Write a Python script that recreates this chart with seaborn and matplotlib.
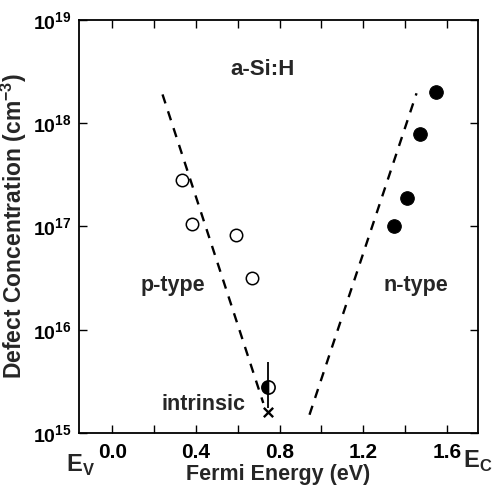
import matplotlib
matplotlib.use("Agg")
import matplotlib.pyplot as plt
import matplotlib.ticker as mticker
import numpy as np
import pandas as pd
import seaborn as sns

# dados (energia de Fermi em eV, concentracao em cm^-3)
p_energy = [0.335, 0.383, 0.593, 0.670]
p_defects = [2.8e17, 1.05e17, 8.3e16, 3.2e16]

n_energy = [1.349, 1.410, 1.470, 1.550]
n_defects = [1.0e17, 1.9e17, 7.9e17, 2.0e18]

intr_energy = [0.746]
intr_defects = [2.8e15]
intr_err_low = [1.75e15]
intr_err_high = [4.9e15]
x_energy = [0.746]
x_defects = [1.6e15]

# linhas tracejadas (extremos)
p_line_energy = [0.24, 0.722]
p_line_defects = [1.9e18, 1.95e15]
n_line_energy = [0.943, 1.455]
n_line_defects = [1.5e15, 1.95e18]

x_ticks = [0.0, 0.2, 0.4, 0.6, 0.8, 1.0, 1.2, 1.4, 1.6]
x_ticklabels = ['0.0', '', '0.4', '', '0.8', '', '1.2', '', '1.6']
y_ticks = [1e15, 1e16, 1e17, 1e18, 1e19]

sns.set_theme(style='ticks')
plt.rcParams['font.family'] = ['Liberation Sans', 'DejaVu Sans']
plt.rcParams['font.weight'] = 'bold'
plt.rcParams['mathtext.fontset'] = 'custom'
plt.rcParams['mathtext.bf'] = 'Liberation Sans:bold'
plt.rcParams['mathtext.rm'] = 'Liberation Sans:bold'

fig = plt.figure(figsize=(4.93, 4.87), dpi=100)
ax = fig.add_axes([0.160, 0.111, 0.810, 0.848])

df_p = pd.DataFrame({'E': p_energy, 'N': p_defects})
df_n = pd.DataFrame({'E': n_energy, 'N': n_defects})

sns.lineplot(x=p_line_energy, y=p_line_defects, ax=ax, color='black',
             linestyle=(0, (4, 3.5)), linewidth=1.7)
sns.lineplot(x=n_line_energy, y=n_line_defects, ax=ax, color='black',
             linestyle=(0, (4, 3.5)), linewidth=1.7)

sns.scatterplot(data=df_p, x='E', y='N', ax=ax, marker='o', s=80,
                facecolor='white', edgecolor='black', linewidth=1.1, zorder=5)
sns.scatterplot(data=df_n, x='E', y='N', ax=ax, marker='o', s=95,
                color='black', edgecolor='black', zorder=5)

# ponto intrinseco com barra de erro
yerr = [[intr_defects[0] - intr_err_low[0]], [intr_err_high[0] - intr_defects[0]]]
ax.errorbar(intr_energy, intr_defects, yerr=yerr, fmt='none', ecolor='black',
            elinewidth=1.3, capsize=0, zorder=4)
ax.plot(intr_energy, intr_defects, marker='o', markersize=9.5, fillstyle='left',
        markerfacecolor='black', markerfacecoloralt='white',
        markeredgecolor='black', markeredgewidth=1.2, linestyle='none', zorder=6)
sns.scatterplot(x=x_energy, y=x_defects, ax=ax, marker='x', s=45,
                color='black', linewidth=1.7, zorder=6)

ax.set_yscale('log')
ax.set_xlim(-0.16, 1.75)
ax.set_ylim(1e15, 1e19)

ax.set_xticks(x_ticks)
ax.set_xticklabels(x_ticklabels, fontsize=15, fontweight='bold')
ax.set_yticks(y_ticks)
ax.yaxis.set_major_formatter(mticker.FuncFormatter(
    lambda v, pos: r'$\mathbf{10^{%d}}$' % round(np.log10(v))))
ax.yaxis.set_minor_locator(mticker.NullLocator())

ax.tick_params(axis='both', which='major', direction='in', length=6, width=1,
               top=True, right=True, colors='black')
ax.tick_params(axis='x', labelsize=15, pad=7)
ax.tick_params(axis='y', labelsize=14, pad=5)
for s in ax.spines.values():
    s.set_linewidth(1.3)
    s.set_color('black')

ax.set_xlabel('Fermi Energy (eV)', fontsize=15.5, fontweight='bold', labelpad=2)
ax.set_ylabel('Defect Concentration (cm$^{-3}$)', fontsize=16.5,
              fontweight='bold')
ax.yaxis.set_label_coords(-0.125, 0.5)

ax.text(0.461, 0.88, 'a-Si:H', transform=ax.transAxes, ha='center', va='center',
        fontsize=16, fontweight='bold')
ax.text(0.236, 0.358, 'p-type', transform=ax.transAxes, ha='center', va='center',
        fontsize=15.5, fontweight='bold')
ax.text(0.845, 0.358, 'n-type', transform=ax.transAxes, ha='center', va='center',
        fontsize=15.5, fontweight='bold')
ax.text(0.313, 0.07, 'intrinsic', transform=ax.transAxes, ha='center',
        va='center', fontsize=15.5, fontweight='bold')

fig.text(80 / 493, 1 - 465 / 487, r'E$_\mathregular{V}$', ha='center',
         va='center', fontsize=17, fontweight='bold')
fig.text(478 / 493, 1 - 461 / 487, r'E$_\mathregular{C}$', ha='center',
         va='center', fontsize=17, fontweight='bold')

fig.savefig('out.png', dpi=100)
